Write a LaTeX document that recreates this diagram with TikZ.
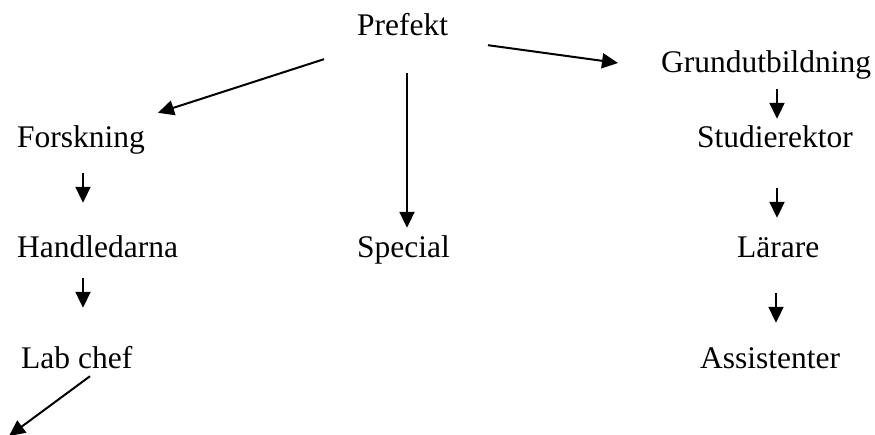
\documentclass[tikz,border=0pt]{standalone}
\usepackage{fontspec}
\setmainfont{Liberation Serif}
\usetikzlibrary{arrows.meta,calc}
\begin{document}
\begin{tikzpicture}[x=1pt,y=-1pt,
  lbl/.style={anchor=base west,inner sep=0pt,text height=21pt,text depth=7pt,font=\fontsize{31.5}{36}\selectfont},
  arr/.style={line width=2pt,-{Triangle[length=16pt,width=15pt]}}]
\useasboundingbox (0,0) rectangle (875,435);
\node[lbl] (pre) at (357,36) {Prefekt};
\node[lbl] (gr)  at (661,73) {Grundutbildning};
\node[lbl] (fo)  at (17,148) {Forskning};
\node[lbl] (st)  at (697,148) {Studierektor};
\node[lbl] (ha)  at (17,258) {Handledarna};
\node[lbl] (sp)  at (357,258) {Special};
\node[lbl] (la)  at (737,258) {Lärare};
\node[lbl] (lab) at (21,368) {Lab chef};
\node[lbl] (as)  at (700,368) {Assistenter};
\coordinate (out) at (9,436);
% arrows
\draw[arr] ($(pre.south west)+(-33,16)$) -- ($(fo.north west)+(141,-14)$);
\draw[arr] ($(pre.south west)+(50,30)$) -- ($(pre.south west |- sp.north)+(50,-9)$);
\draw[arr] ($(pre.south west)+(131,2)$) -- ($(gr.west)+(-43,-3)$);
\draw[arr] ($(gr.south west)+(116,9)$) -- ($(gr.south west |- st.north)+(116,-8)$);
\draw[arr] ($(st.south west)+(80,33)$) -- ($(st.south west |- la.north)+(80,-19)$);
\draw[arr] ($(la.south west)+(39,28)$) -- ($(la.south west |- as.north)+(39,-24)$);
\draw[arr] ($(fo.south west)+(66,18)$) -- ($(fo.south west |- ha.north)+(66,-34)$);
\draw[arr] ($(fo.south west |- ha.south)+(66,13)$) -- ($(fo.south west |- lab.north)+(66,-39)$);
\draw[arr] ($(lab.south west)+(69,1)$) -- (out);
\end{tikzpicture}
\end{document}
